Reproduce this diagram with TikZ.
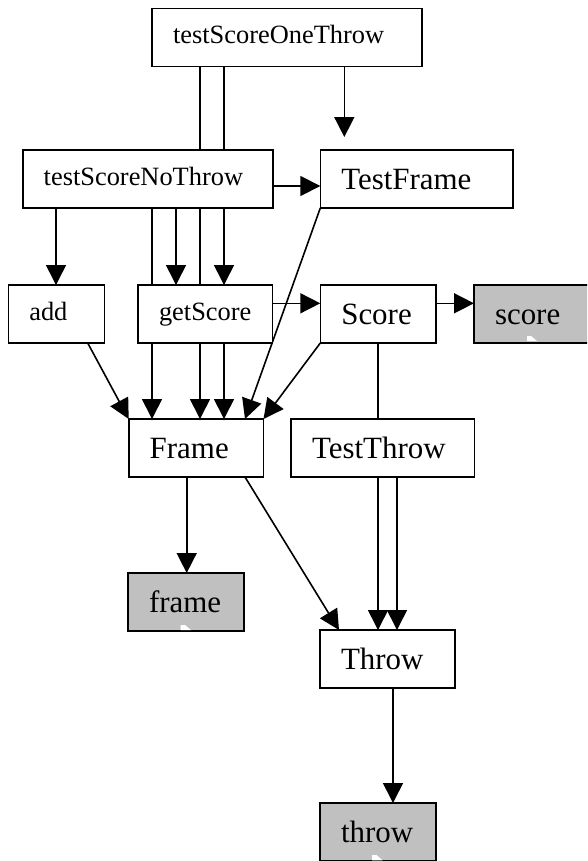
\documentclass[tikz,border=0pt]{standalone}
\usepackage{fontspec}
\setmainfont{Liberation Serif}
\usetikzlibrary{arrows.meta}
\definecolor{boxgray}{RGB}{192,192,192}
\pgfdeclarelayer{background}
\pgfsetlayers{background,main}
\tikzset{
  px/.style={x=0.75pt,y=-0.75pt},
  cbox/.style={draw,rectangle,anchor=north west,fill=white,line width=1.2pt,
    outer sep=0pt,inner ysep=0pt,inner xsep=15.75pt,minimum height=43.5pt,
    align=left},
  method/.style={cbox,font=\fontsize{19.8}{24}\selectfont,text height=9.75pt,text depth=0pt},
  klass/.style={cbox,font=\fontsize{23.2}{28}\selectfont,text height=15pt,text depth=0pt},
  inst/.style={klass,fill=boxgray},
  arr/.style={line width=1.2pt,-{Triangle[length=15pt,width=15pt]}},
}
\begin{document}
\begin{tikzpicture}[px]
\useasboundingbox (0,0) rectangle (587,861);
\clip (0,0) rectangle (587,861);

% boxes
\node[method,text width=170.8pt] (tsot) at (152,8.3) {testScoreOneThrow};
\node[method,text width=156pt]   (tsnt) at (22.7,150) {testScoreNoThrow};
\node[klass,text width=112.8pt]  (tframe) at (320.3,150) {TestFrame};
\node[method,text width=40.5pt]  (add) at (8.3,285) {add};
\node[method,text width=69.5pt]  (gets) at (138,285) {getScore};
\node[klass,text width=55.3pt]   (score) at (320.3,285) {Score};
\node[inst,text width=55.5pt]    (scoreobj) at (474,285) {score};
\node[klass,text width=69.6pt]   (frame) at (128.7,419) {Frame};
\node[klass,text width=106pt]    (tthrow) at (291,419) {TestThrow};
\node[inst,text width=55.5pt]    (frameobj) at (128,573) {frame};
\node[klass,text width=69.75pt]  (throw) at (320,630) {Throw};
\node[inst,text width=55.5pt]    (throwobj) at (320,803) {throw};

% small white marks at the foot of the object boxes
\fill[white] (527,341) -- (527,336) -- (531,336) -- (537,341) -- cycle;
\fill[white] (180.5,630) -- (180.5,625) -- (185,625) -- (191,630) -- cycle;
\fill[white] (372,860.3) -- (372,855) -- (376.5,855) -- (382.5,860.3) -- cycle;

% columns and rows used by the connectors
\coordinate (x56) at (56,0);
\coordinate (x88) at (87.7,0);
\coordinate (x152) at (152,0);
\coordinate (x176) at (176,0);
\coordinate (x187) at (186.7,0);
\coordinate (x200) at (200,0);
\coordinate (x224) at (224,0);
\coordinate (x245) at (245,0);
\coordinate (x339) at (339,0);
\coordinate (x344) at (344.3,0);
\coordinate (x378) at (378,0);
\coordinate (x393) at (393,0);
\coordinate (x397) at (397,0);
\coordinate (y186) at (0,186);
\coordinate (y303) at (0,303.3);

% connectors
\begin{pgfonlayer}{background}
\draw[arr,shorten >=9.75pt] (tsot.south -| x344) -- (tframe.north -| x344);
\draw[arr] (tsnt.east |- y186) -- (tframe.west |- y186);
\draw[arr] (tsnt.south -| x56) -- (add.north -| x56);
\draw[arr] (tsot.south -| x224) -- (gets.north -| x224);
\draw[arr] (tsot.south -| x200) -- (frame.north -| x200);
\draw[arr] (tsnt.south -| x176) -- (gets.north -| x176);
\draw[arr] (tsnt.south -| x152) -- (frame.north -| x152);
\draw[arr] (gets.south -| x224) -- (frame.north -| x224);
\draw[arr] (gets.east |- y303) -- (score.west |- y303);
\draw[arr] (score.east |- y303) -- (scoreobj.west |- y303);
\draw[arr] (add.south -| x88) -- (frame.north west);
\draw[arr] (tframe.south west) -- (frame.north -| x245);
\draw[arr] (score.south west) -- (frame.north east);
\draw[arr] (score.south -| x378) -- (throw.north -| x378);
\draw[arr] (tthrow.south -| x397) -- (throw.north -| x397);
\draw[arr] (frame.south -| x187) -- (frameobj.north -| x187);
\draw[arr] (frame.south -| x245) -- (throw.north -| x339);
\draw[arr] (throw.south -| x393) -- (throwobj.north -| x393);
\end{pgfonlayer}
\end{tikzpicture}
\end{document}
